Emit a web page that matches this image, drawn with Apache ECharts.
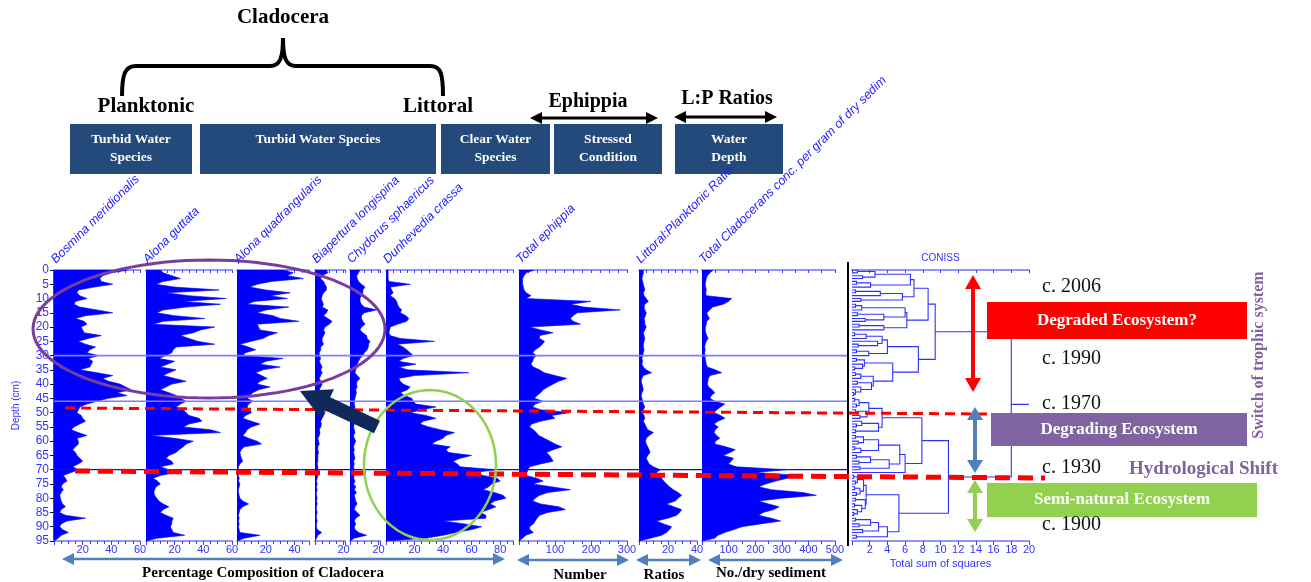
<!DOCTYPE html>
<html>
<head>
<meta charset="utf-8">
<script src="https://cdn.jsdelivr.net/npm/echarts@6/dist/echarts.min.js"></script>
<style>
  html, body { margin: 0; padding: 0; background: #fff; }
  #chart { width: 1311px; height: 582px; }
</style>
</head>
<body>
<div id="chart"></div>
<script>
// sample depths (cm)
const depths = [0,1,2,3,4,5,6,7,8,9,10,11,12,13,14,15,16,17,18,19,20,21,22,23,24,25,26,27,28,29,
  30,31,32,33,34,35,36,37,38,39,40,41,42,43,44,45,46,47,48,49,50,51,52,53,54,55,56,57,58,59,
  60,61,62,63,64,65,66,67,68,69,70,71,72,73,74,75,76,77,78,79,80,81,82,83,84,85,86,87,88,89,
  90,91,92,93,94,95];

const taxa = ['Bosmina meridionalis', 'Alona guttata', 'Alona quadrangularis', 'Biapertura longispina',
  'Chydorus sphaericus', 'Dunhevedia crassa', 'Total ephippia', 'Littoral:Planktonic Ratio',
  'Total Cladocerans conc. per gram of dry sedim'];

// percentages
const bosmina = [52,40,34,32,33,41,28,17,16,18, 23,15,14,18,30,41,22,15,21,23, 19,20,21,33,24,17,22,29,25,23,
  31,24,27,26,25,18,30,41,34,38, 46,50,54,44,51,38,30,23,18,17, 16,19,20,22,18,14,12,17,23,16,
  17,17,15,13,15,16,18,20,17,13, 17,12,6.5,8,9,6,5,6.5,5,4, 4.5,5,6,8,5,4,8,22,9,5, 4,6,10,5,3,0];
const guttata = [10,12,18,24,12,7,20,51,14,30, 56,26,52,28,12,7.5,20,41,12,5, 48,38,33,24,30,36,48,21,19,18,
  14,9,20,15,10,21,16,12,20,28, 18,14,10,16,21,24,28,24,21,26, 28,30,37,39,30,26,45,52,3,20,
  33,28,26,23,21,16,14,18,19,10, 16,21,10,5,8,10,7,6,5.5,6, 7.5,9,12,16,12,10,14,19,18,18, 17,18,19,27,8,0];
const quadrangularis = [32,39,35,46,24,14,9,20,37,23, 35,12,7,36,20,14,25,30,43,14, 15,16,28,22,18,10,2,8,13,6,
  4,32,20,16,30,18,13,17,21,16, 14,23,15,11,9,7,11,8,7,9, 10,6,4,10,16,10,7,6,4,8,
  14,17,5,3,2,2.5,3,4,2,1, 1,1.5,1,1.5,1,2,1.5,1,1,1.5, 2,4,8,4,2,1.5,1,1.5,1,1.5, 1,1.5,2,16,5,0];
const longispina = [8,9,5,4,6,7,8,8,6,5, 4.5,5,6,5,9,8,6,9,12,10, 7,6,7,6,5,5,6,4,4,3,
  3,4,3,4,5,4,5,4,3,4, 5,4,3,4,3,3,4,6,7,6, 7,6,5,4,4.5,4,3,3.5,3,2,
  2.5,3,2,2,2.5,2,2,2,1.5,2, 2,1.5,2,1.5,1,1.5,1,1.5,1,1, 1.5,1,1.5,1,1,1.5,1,1,1.5,1, 1,1.5,4.7,2,1,0];
const sphaericus = [7,6,4.7,5,6,8,10.5,9,9,8, 7,7,8,10,18.6,10,8,8,9,10.5, 8,7,9,11.6,12,14,13,12.8,12,10,
  9,7,6,5,5,4,3.5,5,7,5, 4.5,5,4,4.5,4,3.5,3,3,3.5,3, 2.5,3,3.5,2.5,3,2.5,3,3.5,2.5,3,
  4,3,2.5,3,2.5,3,3.5,2.5,3,2.5, 3,2.5,3,2.5,3.5,2.5,4,3,4.5,3, 3.5,4,5,3.5,3,5,7,4,3,4, 3,3.5,6,11.6,3,0];
const crassa = [1.5,1.5,1.5,1.5,2,17,3,4,5,3, 6,7.5,8,9,11,10,14,16,14.5,8, 3,2.5,2,3,10,34,8,12,14.5,17,
  19,12,9,21,9,15,58,20,9,10, 12,17,15,10,13,18,19,21,35,25, 17,28,35,26,24,30,38,48,42,40,
  35,32,45,42,44,60,52,47,50,52, 77,62,68,78,80,74,72,68,76,82, 84,76,73,77,72,66,70,70,40,55, 67,60,49,40,28,0];
// counts
const ephippia = [43,20,14,10,10,10,12,14,20,33, 19,200,143,180,281,162,150,143,150,171, 29,60,95,57,57,71,65,57,45,38,
  48,40,38,33,40,57,70,100,133,110, 95,80,67,60,50,43,67,45,38,60, 140,90,100,60,35,29,40,48,55,70,
  86,100,119,95,76,85,90,95,60,29, 25,22,19,50,67,38,90,143,80,57, 45,38,60,110,129,80,57,50,45,40, 29,30,40,19,10,0];
const lpRatio = [3,3,2.5,2,2.5,3,3.5,4,3,3.5, 5,6.4,4,3.5,4,5,4.5,3.5,4,4, 5,4,3,3.5,4,3.5,3,3,3.5,3,
  2.5,2,2.5,2,3,5,8.7,3,2,1.5, 2,2.5,3,2,1.5,2,2.5,3,4,3, 2.5,3.5,4,3,4,5,6,10,7,5,
  4.5,5,6,7,7.6,6,5,6,7,10, 14.5,12,15,15.6,17,19,21,23.7,27,29.4, 27,25,19,24,29.4,28,26,20,12,17, 22.5,21,19,15.6,8,0];
const totalConc = [42,30,20,16,14,12,14,16,14,16, 112,99,80,40,29,18,22,28,18,16, 13,12,14,18,23,16,12,10,12,10,
  11,12,14,16,20,50,74,30,24,22, 20,25,38,48,35,30,48,86,70,55, 45,70,86,60,45,61,50,45,55,67,
  50,48,90,125,105,80,118,110,99,130, 315,200,366,320,277,240,213,260,380,430, 300,213,250,290,270,230,213,260,296,220, 150,120,86,60,48,0];

// axis ranges and ticks for the 9 profiles + CONISS
const axisMax = [60, 60, 50, 21, 21, 89, 300, 40, 500, 20];
const labelStep = [20, 20, 20, 20, 20, 20, 100, 20, 100, 2];
const topStep = [5, 5, 5, 5, 5, 5, 25, 5, 50, 2];
const minorSplit = [4, 4, 4, 4, 4, 4, 4, 4, 2, 0];

// CONISS zone boundaries (cm)
const zoneDepths = [30, 46, 70];

// CONISS dendrogram: [total sum of squares, left, right], leaves are depths
const conissTree = [18.0,
  [9.4,
    [8.6,
      [7.0,
        [6.6, [2.6, [0.6, 0, 1], [1.2, 2, 3]], [2.1, [0.5, 4, 5], 6]],
        [5.7, [3.2, [0.4, 7, 8], 9], [1.0, 10, 11]]],
      [6.2,
        [6.0, [1.1, [0.4, 12, 13], 14], [3.6, [0.6, 15, 16], [1.5, 17, 18]]],
        [3.6, [0.8, 19, 20], 21]]],
    [7.5,
      [4.0,
        [3.4, [1.6, [0.3, 22, 23], 24], [2.9, 25, [0.7, 26, 27]]],
        [1.9, [0.5, 28, 29], 30]],
      [4.6,
        [1.4, [0.5, 31, 32], [1.2, 33, [0.3, 34, 35]]],
        [2.4, [1.0, [0.4, 36, 37], 38], [2.2, [0.6, 39, 40], [1.0, 41, [0.4, 42, [0.2, 43, 44]]]]]]]],
  [10.9,
    [7.9,
      [3.4,
        [1.9, [0.8, [0.3, 45, 46], [0.5, 47, 48]], [1.7, [0.4, 49, 50], [0.9, 51, 52]]],
        [3.0, [1.1, 53, [0.5, 54, 55]], [0.4, 56, 57]]],
      [6.0,
        [5.4,
          [3.0, [1.3, [0.4, 58, 59], [0.7, 60, 61]], [1.0, [0.3, 62, 63], 64]],
          [4.2, [2.1, [0.5, 65, 66], [0.8, 67, 68]], [0.9, 69, 70]]],
        71]],
    [5.3,
      [1.6,
        [1.3, [0.6, [0.2, 72, 73], [0.4, 74, 75]], [0.9, [0.3, 76, 77], [0.5, 78, 79]]],
        [1.5, [0.4, 80, 81], [1.1, [0.3, 82, 83], [0.6, 84, [0.2, 85, 86]]]]],
      [4.0, [3.0, [2.1, [0.4, 87, 88], [0.8, 89, 90]], [1.2, 91, 92]], [0.5, 93, 94]]]]];

// layout
const panelLeft = [54, 146, 237, 315, 350, 386, 519, 639, 702, 852];
const panelWidth = [86, 86, 72, 30, 30, 127, 108, 58, 133, 177];
const panelTop = 270, panelHeight = 271;
const BLUE = '#0000ff', LABEL = '#3333ff', AXIS = '#9393ff', TICK = '#3c3cff';
const SERIF = '"Liberation Serif", "DejaVu Serif", serif';
const SANS = '"Liberation Sans", Arial, sans-serif';

const profiles = [bosmina, guttata, quadrangularis, longispina, sphaericus, crassa, ephippia, lpRatio, totalConc];

function dendroSegments(node, segs) {
  if (typeof node === 'number') return { x: 0, y: node };
  const a = dendroSegments(node[1], segs);
  const b = dendroSegments(node[2], segs);
  const h = node[0];
  segs.push({ coords: [[a.x, a.y], [h, a.y], [h, b.y], [b.x, b.y]] });
  return { x: h, y: (a.y + b.y) / 2 };
}
const conissSegs = [];
const conissRoot = dendroSegments(conissTree, conissSegs);
conissSegs.push({ coords: [[conissRoot.x, conissRoot.y], [axisMax[9], conissRoot.y]] });

const chart = echarts.init(document.getElementById('chart'));

const xAxes = [];
panelLeft.forEach((l, i) => {
  const step = labelStep[i];
  xAxes.push({
    type: 'value', gridIndex: i, position: 'bottom', min: 0, max: axisMax[i], interval: step,
    axisLine: { show: true, onZero: false, lineStyle: { color: AXIS, width: 2 } },
    axisTick: { show: true, length: 4, lineStyle: { color: TICK } },
    minorTick: { show: minorSplit[i] > 0, splitNumber: minorSplit[i] || 5, length: 3, lineStyle: { color: TICK } },
    axisLabel: {
      color: LABEL, fontSize: 11, fontFamily: SANS, margin: 3,
      formatter: v => (v > 0 && Math.abs(v / step - Math.round(v / step)) < 1e-6) ? String(v) : ''
    },
    splitLine: { show: false },
    name: i === 9 ? 'Total sum of squares' : '',
    nameLocation: 'middle', nameGap: 17,
    nameTextStyle: { color: LABEL, fontSize: 11, fontFamily: SANS }
  });
  xAxes.push({
    type: 'value', gridIndex: i, position: 'top', min: 0, max: axisMax[i], interval: topStep[i],
    axisLine: { show: true, onZero: false, lineStyle: { color: AXIS, width: 2 } },
    axisTick: { show: true, inside: true, length: 3, lineStyle: { color: TICK } },
    axisLabel: { show: false },
    splitLine: { show: false },
    name: i === 9 ? 'CONISS' : '',
    nameLocation: 'middle', nameGap: 7,
    nameTextStyle: { color: LABEL, fontSize: 10, fontFamily: SANS }
  });
});

const yAxes = panelLeft.map((l, i) => {
  if (i === 9) return { type: 'value', gridIndex: 9, min: 0, max: 95, inverse: true, show: false };
  return {
    type: 'category', gridIndex: i, data: depths.map(String), inverse: true, boundaryGap: false,
    show: i === 0,
    axisLine: { show: true, lineStyle: { color: '#111', width: 1.5 } },
    axisTick: { show: true, interval: 4, length: 4, lineStyle: { color: '#111' } },
    axisLabel: { interval: 4, color: LABEL, fontSize: 12, fontFamily: SANS, margin: 5 },
    splitLine: { show: false },
    name: i === 0 ? 'Depth (cm)' : '', nameLocation: 'middle', nameGap: 33,
    nameTextStyle: { color: LABEL, fontSize: 10, fontFamily: SANS }
  };
});

const series = profiles.map((vals, i) => ({
  type: 'line', xAxisIndex: 2 * i, yAxisIndex: i, data: vals,
  symbol: 'none', silent: true, z: 2,
  lineStyle: { color: BLUE, width: 0.6 },
  areaStyle: { color: BLUE, opacity: 1 }
}));
series.push({
  type: 'lines', coordinateSystem: 'cartesian2d', xAxisIndex: 18, yAxisIndex: 9,
  polyline: true, silent: true, data: conissSegs,
  lineStyle: { color: '#3030ff', width: 1.1, opacity: 1 }
});

chart.setOption({
  animation: false,
  backgroundColor: '#fff',
  grid: panelLeft.map((l, i) => ({ left: l, top: panelTop, width: panelWidth[i], height: panelHeight })),
  xAxis: xAxes,
  yAxis: yAxes,
  series: series
});

// ---------- annotations ----------
const g = [];
function txt(x, y, text, o) {
  o = o || {};
  g.push({
    type: 'text', x: x, y: y, rotation: o.rot || 0, z: 120,
    style: {
      text: text, fill: o.color || '#000', fontSize: o.size || 14, fontWeight: o.weight || 'normal',
      fontStyle: o.italic ? 'italic' : 'normal', fontFamily: o.family || SERIF,
      align: o.align || 'center', verticalAlign: o.valign || 'middle', lineHeight: o.lh || undefined
    }
  });
}
function line(x1, y1, x2, y2, stroke, w, dash) {
  g.push({ type: 'line', z: 110, shape: { x1, y1, x2, y2 }, style: { stroke, lineWidth: w, lineDash: dash || null } });
}
function rect(x, y, w, h, fill) {
  g.push({ type: 'rect', z: 115, shape: { x, y, width: w, height: h }, style: { fill } });
}
function dblArrow(x1, y1, x2, y2, color, w, hl, hw) {
  const len = Math.hypot(x2 - x1, y2 - y1), ux = (x2 - x1) / len, uy = (y2 - y1) / len, nx = -uy, ny = ux;
  line(x1 + ux * hl * 0.8, y1 + uy * hl * 0.8, x2 - ux * hl * 0.8, y2 - uy * hl * 0.8, color, w);
  [[x2, y2, 1], [x1, y1, -1]].forEach(([tx, ty, s]) => {
    const bx = tx - s * ux * hl, by = ty - s * uy * hl;
    g.push({ type: 'polygon', z: 116, shape: { points: [[tx, ty], [bx + nx * hw, by + ny * hw], [bx - nx * hw, by - ny * hw]] }, style: { fill: color } });
  });
}
function ellipse(cx, cy, rx, ry, stroke, w) {
  const pts = [];
  for (let k = 0; k <= 96; k++) {
    const t = k / 96 * Math.PI * 2;
    pts.push([cx + rx * Math.cos(t), cy + ry * Math.sin(t)]);
  }
  g.push({ type: 'polyline', z: 118, shape: { points: pts }, style: { stroke, lineWidth: w, fill: null } });
}
function curve(x1, y1, c1x, c1y, c2x, c2y, x2, y2) {
  g.push({ type: 'bezierCurve', z: 110, shape: { x1, y1, x2, y2, cpx1: c1x, cpy1: c1y, cpx2: c2x, cpy2: c2y }, style: { stroke: '#000', lineWidth: 4, fill: null } });
}

// header brace and group labels
curve(122, 96, 122, 74, 125, 66, 136, 66);
line(135, 66, 271, 66, '#000', 4);
curve(270, 66, 280, 66, 283, 58, 283, 38);
curve(283, 38, 283, 58, 286, 66, 296, 66);
line(295, 66, 431, 66, '#000', 4);
curve(430, 66, 441, 66, 443, 74, 443, 96);
txt(283, 18, 'Cladocera', { size: 21, weight: 'bold' });
txt(146, 107, 'Planktonic', { size: 21, weight: 'bold' });
txt(438, 107, 'Littoral', { size: 21, weight: 'bold' });
txt(588, 102, 'Ephippia', { size: 20, weight: 'bold' });
txt(727, 99, 'L:P Ratios', { size: 20, weight: 'bold' });
dblArrow(530, 118, 658, 118, '#000', 3, 12, 6);
dblArrow(674, 117, 777, 117, '#000', 3, 12, 6);

const headBoxes = [
  [70, 122, 'Turbid Water\nSpecies', 149],
  [200, 236, 'Turbid Water Species', 140],
  [441, 109, 'Clear Water\nSpecies', 149],
  [554, 108, 'Stressed\nCondition', 149],
  [675, 108, 'Water\nDepth', 149]
];
headBoxes.forEach(([x, w, t, ty]) => {
  rect(x, 124, w, 50, '#24497b');
  txt(x + w / 2, ty, t, { size: 13.5, weight: 'bold', color: '#fff', lh: 18 });
});

// column titles
taxa.forEach((t, i) => {
  txt(panelLeft[i] + 4, 266, t, { rot: Math.PI / 4, align: 'left', valign: 'bottom', size: 12.5, italic: true, family: SANS, color: '#2222ff' });
});

// CONISS zone lines across the profiles
const xStart = panelLeft[0], xEnd = panelLeft[9] - 4;
zoneDepths.forEach((d, k) => {
  const y = chart.convertToPixel({ yAxisIndex: 9 }, d);
  line(xStart, y, xEnd, y, k === 2 ? '#1010c0' : '#7d7dff', k === 2 ? 1.2 : 1.6);
});
line(xEnd, 262, xEnd, 546, '#000', 2);

// highlighted regions
ellipse(209, 329, 176, 69, '#7a3d9e', 3);
ellipse(430, 465, 66, 75, '#92d050', 2.5);

// navy pointer arrow
(function () {
  const tip = [300, 391], tail = [377, 427], hl = 30, hw = 16, sw = 7;
  const len = Math.hypot(tip[0] - tail[0], tip[1] - tail[1]);
  const ux = (tip[0] - tail[0]) / len, uy = (tip[1] - tail[1]) / len, nx = -uy, ny = ux;
  const bx = tip[0] - ux * hl, by = tip[1] - uy * hl;
  g.push({ type: 'polygon', z: 119, style: { fill: '#10295b' }, shape: { points: [
    [tail[0] + nx * sw, tail[1] + ny * sw], [bx + nx * sw, by + ny * sw], [bx + nx * hw, by + ny * hw], tip,
    [bx - nx * hw, by - ny * hw], [bx - nx * sw, by - ny * sw], [tail[0] - nx * sw, tail[1] - ny * sw]] } });
})();

// red dashed shift lines
line(65, 408, 990, 414, '#ff0000', 3, [10, 6]);
line(75, 471, 1045, 478, '#ff0000', 5, [15, 8]);

// ecosystem states
dblArrow(973, 275, 973, 392, '#ff0000', 4, 14, 8);
dblArrow(975, 407, 975, 473, '#4f81bd', 4, 13, 8);
dblArrow(975, 480, 975, 532, '#92d050', 4, 13, 8);
rect(987, 302, 260, 37, '#ff0000');
txt(1117, 321, 'Degraded Ecosystem?', { size: 17, weight: 'bold', color: '#fff' });
rect(991, 413, 256, 33, '#8064a2');
txt(1119, 430, 'Degrading Ecosystem', { size: 17, weight: 'bold', color: '#fff' });
rect(987, 483, 270, 34, '#92d050');
txt(1122, 500, 'Semi-natural Ecosystem', { size: 17, weight: 'bold', color: '#fff' });
[['c. 2006', 287], ['c. 1990', 359], ['c. 1970', 404], ['c. 1930', 468], ['c. 1900', 525]].forEach(([t, y]) => {
  txt(1042, y, t, { size: 20, align: 'left', color: '#111' });
});
txt(1129, 469, 'Hydrological Shift', { size: 19, weight: 'bold', align: 'left', color: '#8064a2' });
txt(1259, 355, 'Switch of trophic system', { size: 16, weight: 'bold', rot: Math.PI / 2, color: '#8064a2' });

// bottom group labels
dblArrow(62, 559, 505, 559, '#4f81bd', 2.5, 12, 6);
dblArrow(517, 560, 629, 560, '#4f81bd', 2.5, 12, 6);
dblArrow(636, 560, 701, 560, '#4f81bd', 2.5, 12, 6);
dblArrow(708, 560, 843, 560, '#4f81bd', 2.5, 12, 6);
txt(263, 573, 'Percentage Composition of Cladocera', { size: 15, weight: 'bold' });
txt(580, 575, 'Number', { size: 15, weight: 'bold' });
txt(664, 575, 'Ratios', { size: 15, weight: 'bold' });
txt(771, 573, 'No./dry sediment', { size: 15, weight: 'bold' });

chart.setOption({ graphic: g });
window.addEventListener('resize', () => chart.resize());
</script>
</body>
</html>
